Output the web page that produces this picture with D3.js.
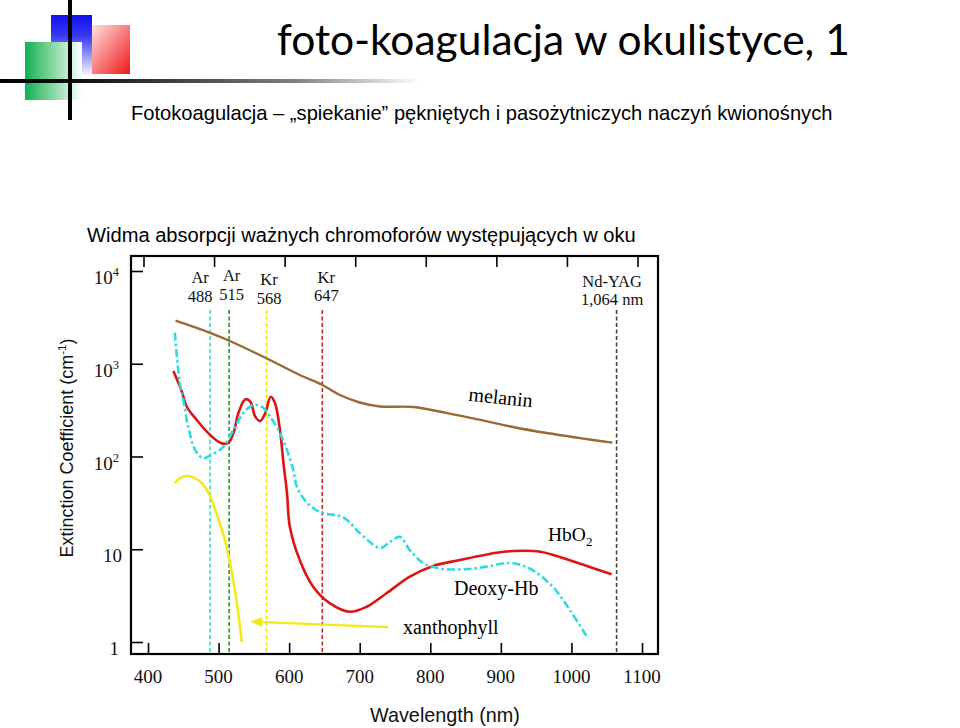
<!DOCTYPE html>
<html><head><meta charset="utf-8">
<script src="https://cdn.jsdelivr.net/npm/d3@7"></script>
<style>body{margin:0;background:#fff} svg{display:block}</style>
</head><body><svg id="c" width="960" height="728"></svg>
<script>
// ---------- data ----------
const xTicks = [400, 500, 600, 700, 800, 900, 1000, 1100];
const yTickExps = [0, 1, 2, 3, 4];

const melaninWl  = [439, 487, 516, 567, 615, 647, 672, 700, 729, 776, 824, 871, 917, 965, 1012, 1058];
const melaninVal = [2911, 2163, 1759, 1153, 757, 590, 460, 382, 346, 342, 294, 248, 208, 179, 158, 141];

const deoxyWl  = [438, 445, 450, 457, 467, 478, 490, 507, 521, 535, 549, 561, 573, 587, 597, 606, 611, 625, 644, 677, 700, 729, 743, 757, 771, 790, 814, 852, 880, 913, 941, 974, 998, 1022];
const deoxyVal = [2160, 621, 406, 209, 117, 96, 104, 128, 193, 294, 359, 344, 269, 179, 117, 71, 47, 32, 25, 22, 15, 10.3, 12, 13.6, 9.8, 7.1, 6.2, 6.1, 6.5, 7.1, 6.2, 3.9, 2.2, 1.14];

const hbo2Wl  = [436, 442, 448, 455, 469, 488, 504, 514, 521, 528, 538, 545, 552, 559, 566, 574, 580, 587, 592, 597, 601, 615, 634, 658, 686, 710, 738, 771, 804, 842, 894, 918, 956, 989, 1022, 1057];
const hbo2Val = [835, 650, 500, 344, 248, 171, 139, 141, 178, 292, 414, 390, 269, 241, 292, 441, 375, 193, 84.5, 40, 17.5, 7.66, 3.95, 2.61, 2.12, 2.40, 3.35, 5.06, 6.6, 7.66, 9.18, 9.57, 9.41, 7.99, 6.6, 5.37];

const xanthWl  = [438, 445, 457, 471, 485, 497, 509, 519, 526, 533];
const xanthVal = [51.4, 58.2, 61.6, 55.8, 41.7, 24.4, 12.6, 5.5, 2.61, 1.0];

const laserNames = ["Ar", "Ar", "Kr", "Kr", "Nd-YAG"];
const laserWl    = [488, 515, 568, 647, 1064];
const laserSub   = ["488", "515", "568", "647", "1,064 nm"];

const arrowFrom = [740, 1.45];
const arrowTo   = [545, 1.66];

// ---------- layout ----------
const svg = d3.select("#c");
const frame = {l: 131, r: 658, t: 256, b: 654};
const x = d3.scaleLinear().domain([400, 1100]).range([148, 642]);
const y = d3.scaleLog().domain([1, 1e4]).range([642, 271]);

const serif = "'Liberation Serif','Times New Roman',serif";
const sans = "'Liberation Sans',Arial,sans-serif";

function fit(t, w) {
  const l = t.node().getComputedTextLength();
  const fs = parseFloat(t.attr("font-size"));
  t.attr("font-size", fs * w / l);
}

svg.append("rect").attr("width", 960).attr("height", 728).attr("fill", "#fff");

// ---------- logo ----------
const defs = svg.append("defs");
const gB = defs.append("linearGradient").attr("id", "gB").attr("x1", 0).attr("y1", 0).attr("x2", 0).attr("y2", 1);
gB.append("stop").attr("offset", 0).attr("stop-color", "#1010f0");
gB.append("stop").attr("offset", 0.35).attr("stop-color", "#3a3af2");
gB.append("stop").attr("offset", 1).attr("stop-color", "#f4f4ff");
const gG = defs.append("linearGradient").attr("id", "gG").attr("x1", 0).attr("y1", 0).attr("x2", 1).attr("y2", 0);
gG.append("stop").attr("offset", 0).attr("stop-color", "#10b050");
gG.append("stop").attr("offset", 0.45).attr("stop-color", "#7fd49c");
gG.append("stop").attr("offset", 1).attr("stop-color", "#ffffff");
const gR = defs.append("linearGradient").attr("id", "gR").attr("x1", 0).attr("y1", 0).attr("x2", 1).attr("y2", 1);
gR.append("stop").attr("offset", 0).attr("stop-color", "#fde2e2");
gR.append("stop").attr("offset", 1).attr("stop-color", "#f01818");
const gL = defs.append("linearGradient").attr("id", "gL").attr("x1", 0).attr("y1", 0).attr("x2", 1).attr("y2", 0);
gL.append("stop").attr("offset", 0).attr("stop-color", "#000");
gL.append("stop").attr("offset", 0.2).attr("stop-color", "#111");
gL.append("stop").attr("offset", 0.7).attr("stop-color", "#808080");
gL.append("stop").attr("offset", 1).attr("stop-color", "#ffffff");

svg.append("rect").attr("x", 51).attr("y", 15).attr("width", 41).attr("height", 60).attr("fill", "url(#gB)");
svg.append("rect").attr("x", 92).attr("y", 25).attr("width", 38).attr("height", 49).attr("fill", "url(#gR)");
svg.append("rect").attr("x", 25).attr("y", 42).attr("width", 57).attr("height", 58).attr("fill", "url(#gG)");
svg.append("rect").attr("x", 0).attr("y", 79).attr("width", 420).attr("height", 4).attr("fill", "url(#gL)");
svg.append("rect").attr("x", 68).attr("y", 0).attr("width", 4).attr("height", 120).attr("fill", "#000");

// ---------- titles ----------
const title = svg.append("text").attr("x", 277).attr("y", 55)
  .attr("font-family", "Lato,'Open Sans',sans-serif").attr("font-size", 40).attr("fill", "#000")
  .text("foto-koagulacja w okulistyce, 1");
fit(title, 573);

const sub = svg.append("text").attr("x", 131).attr("y", 120)
  .attr("font-family", sans).attr("font-size", 18).attr("fill", "#000")
  .text("Fotokoagulacja \u2013 \u201Espiekanie\u201D p\u0119kni\u0119tych i paso\u017Cytniczych naczy\u0144 kwiono\u015Bnych");
fit(sub, 702);

const sub2 = svg.append("text").attr("x", 87).attr("y", 242)
  .attr("font-family", sans).attr("font-size", 18).attr("fill", "#000")
  .text("Widma absorpcji wa\u017Cnych chromofor\u00F3w wyst\u0119puj\u0105cych w oku");
fit(sub2, 549);

// ---------- laser lines ----------
const laserColor = ["#3fd9c6", "#1d9e1d", "#f2e600", "#c8202c", "#444"];
const laserDx = [-10, 2.5, 2.5, 4, -4.5];
const laserY1 = [283, 281, 285, 283, 287];
const laserY2 = [302, 300, 304, 301, 305];
laserWl.forEach((w, i) => {
  svg.append("line").attr("x1", x(w)).attr("x2", x(w)).attr("y1", 310).attr("y2", frame.b)
    .attr("stroke", laserColor[i]).attr("stroke-width", 1.6).attr("stroke-dasharray", "4,2.5");
  const t = svg.append("text").attr("text-anchor", "middle").attr("font-family", serif)
    .attr("font-size", 16.5).attr("fill", "#111");
  t.append("tspan").attr("x", x(w) + laserDx[i]).attr("y", laserY1[i]).text(laserNames[i]);
  t.append("tspan").attr("x", x(w) + laserDx[i]).attr("y", laserY2[i]).text(laserSub[i]);
});

// ---------- curves ----------
const line = d3.line().x(d => x(d[0])).y(d => y(d[1])).curve(d3.curveCatmullRom.alpha(0.5));
const zip = (a, b) => a.map((v, i) => [v, b[i]]);

svg.append("path").attr("d", line(zip(melaninWl, melaninVal))).attr("fill", "none")
  .attr("stroke", "#9a6a35").attr("stroke-width", 2.4);
svg.append("path").attr("d", line(zip(xanthWl, xanthVal))).attr("fill", "none")
  .attr("stroke", "#f2ea18").attr("stroke-width", 2.6);
svg.append("path").attr("d", line(zip(hbo2Wl, hbo2Val))).attr("fill", "none")
  .attr("stroke", "#dd1414").attr("stroke-width", 2.6);
svg.append("path").attr("d", line(zip(deoxyWl, deoxyVal))).attr("fill", "none")
  .attr("stroke", "#2fdbe0").attr("stroke-width", 2.6).attr("stroke-dasharray", "8,3,2.5,3");

// arrow
const ax1 = x(arrowFrom[0]), ay1 = y(arrowFrom[1]), ax2 = x(arrowTo[0]), ay2 = y(arrowTo[1]);
const ang = Math.atan2(ay2 - ay1, ax2 - ax1);
const hl = 12, hw = 5;
const bx = ax2 - hl * Math.cos(ang), by = ay2 - hl * Math.sin(ang);
svg.append("line").attr("x1", ax1).attr("y1", ay1).attr("x2", bx).attr("y2", by)
  .attr("stroke", "#f2ea18").attr("stroke-width", 2.2);
svg.append("path").attr("fill", "#f2ea18")
  .attr("d", `M${ax2},${ay2}L${bx - hw * Math.sin(ang)},${by + hw * Math.cos(ang)}L${bx + hw * Math.sin(ang)},${by - hw * Math.cos(ang)}Z`);

// ---------- curve labels ----------
svg.append("text").attr("font-family", serif).attr("font-size", 20).attr("text-anchor", "middle")
  .attr("transform", "translate(500,404) rotate(6)").text("melanin");
const hb = svg.append("text").attr("font-family", serif).attr("font-size", 19.5).attr("x", 548).attr("y", 541);
hb.append("tspan").text("HbO");
hb.append("tspan").attr("font-size", 13).attr("dy", 5).text("2");
svg.append("text").attr("font-family", serif).attr("font-size", 20).attr("x", 454).attr("y", 595).text("Deoxy-Hb");
svg.append("text").attr("font-family", serif).attr("font-size", 20).attr("x", 403).attr("y", 634).text("xanthophyll");

// ---------- axes ----------
const gTop = svg.append("g").attr("transform", `translate(-4.5,${frame.t})`)
  .call(d3.axisBottom(x).tickValues(xTicks).tickSize(11).tickFormat(""));
const gBot = svg.append("g").attr("transform", `translate(0,${frame.b})`)
  .call(d3.axisTop(x).tickValues(xTicks).tickSize(11).tickFormat(""));
const gLeft = svg.append("g").attr("transform", `translate(${frame.l},0)`)
  .call(d3.axisRight(y).tickValues(yTickExps.map(e => Math.pow(10, e))).tickSize(12).tickFormat(""));
[gTop, gBot, gLeft].forEach(g => {
  g.select(".domain").remove();
  g.selectAll(".tick line").attr("stroke", "#000").attr("stroke-width", 1.6);
});

svg.append("rect").attr("x", frame.l).attr("y", frame.t).attr("width", frame.r - frame.l)
  .attr("height", frame.b - frame.t).attr("fill", "none").attr("stroke", "#000").attr("stroke-width", 2.2);

// x tick labels
svg.append("g").selectAll("text").data(xTicks).join("text")
  .attr("x", d => x(d)).attr("y", 683).attr("text-anchor", "middle")
  .attr("font-family", serif).attr("font-size", 19).attr("fill", "#111").text(d => d);

// y tick labels
yTickExps.forEach(e => {
  const t = svg.append("text").attr("text-anchor", "end").attr("font-family", serif)
    .attr("font-size", 19).attr("fill", "#111").attr("x", e === 1 ? 122 : 119)
    .attr("y", y(Math.pow(10, e)) + 13);
  if (e === 0) t.text("1");
  else if (e === 1) t.text("10");
  else {
    t.append("tspan").text("10");
    t.append("tspan").attr("font-size", 12.5).attr("dy", -8).text(e);
  }
});

// axis titles
const xt = svg.append("text").attr("x", 445).attr("y", 722).attr("text-anchor", "middle")
  .attr("font-family", sans).attr("font-size", 18).attr("fill", "#111").text("Wavelength (nm)");
fit(xt, 150);

const yt = svg.append("text").attr("text-anchor", "middle").attr("font-family", sans)
  .attr("font-size", 18).attr("fill", "#111").attr("transform", "translate(73,448) rotate(-90)");
yt.append("tspan").text("Extinction Coefficient (cm");
yt.append("tspan").attr("font-size", 11.5).attr("dy", -7).text("-1");
yt.append("tspan").attr("dy", 7).text(")");
</script></body></html>
